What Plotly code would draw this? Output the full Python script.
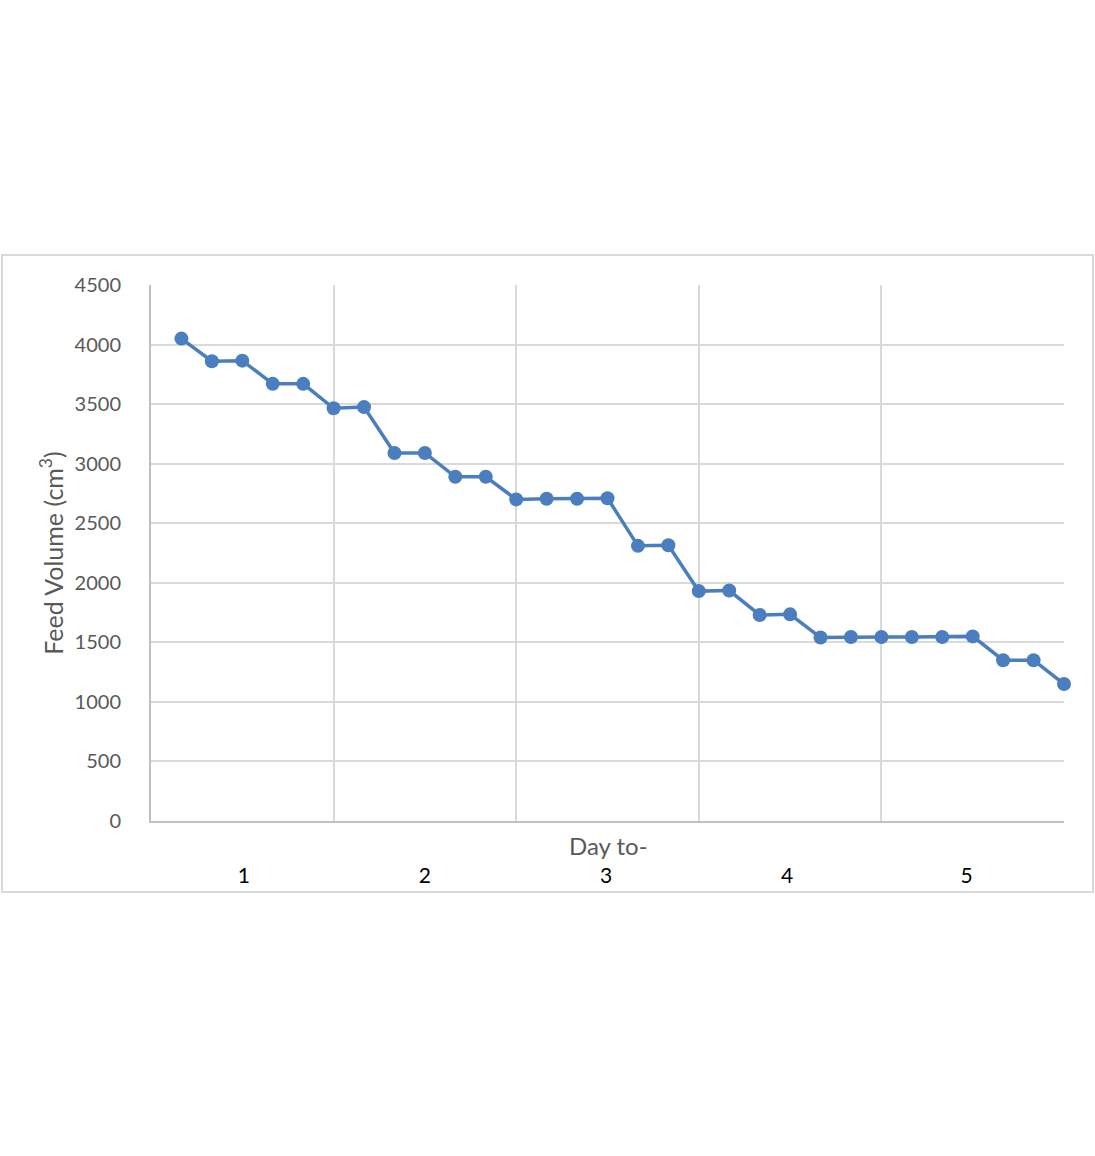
import plotly.graph_objects as go

# Data
sample_index = list(range(1, 31))
feed_volume = [4050, 3860, 3865, 3670, 3670, 3465, 3475, 3090, 3090, 2890,
               2890, 2700, 2705, 2705, 2710, 2310, 2315, 1930, 1935, 1730,
               1735, 1540, 1545, 1545, 1545, 1545, 1550, 1350, 1350, 1150]
day_labels = ["1", "2", "3", "4", "5"]
day_label_pos = [3.05, 9.0, 14.95, 20.9, 26.8]
y_ticks = [0, 500, 1000, 1500, 2000, 2500, 3000, 3500, 4000, 4500]

W, H = 1095, 1156
L, R, T, B = 151, 1064, 285, 821
FONT = "Lato"

fig = go.Figure()
fig.add_trace(go.Scatter(
    x=sample_index, y=feed_volume, mode="lines+markers",
    line=dict(color="#4a7ebf", width=3.5),
    marker=dict(color="#4a7ebf", size=14),
    showlegend=False, cliponaxis=False,
))

fig.update_layout(
    width=W, height=H,
    margin=dict(l=L, r=W - R, t=T, b=H - B),
    paper_bgcolor="white", plot_bgcolor="white",
    font=dict(family=FONT, color="#595959", size=20),
)
fig.update_xaxes(
    range=[0, 30], tickmode="array", tickvals=day_label_pos, ticktext=day_labels,
    showgrid=False, zeroline=False, ticks="",
    tickfont=dict(color="#000000", size=21, family=FONT),
    ticklabelstandoff=35,
    showline=True, linecolor="#c0c0c0", linewidth=2,
    minor=dict(tickmode="linear", tick0=0, dtick=6, showgrid=True,
               gridcolor="#d9d9d9", gridwidth=2, ticks=""),
)
fig.update_yaxes(
    range=[0, 4500], tickmode="array", tickvals=y_ticks,
    showgrid=True, gridcolor="#d9d9d9", gridwidth=2, zeroline=False,
    showline=True, linecolor="#c0c0c0", linewidth=2,
    ticks="", ticklabelstandoff=24,
    tickfont=dict(color="#595959", size=20, family=FONT),
    title=dict(text="Feed Volume (cm<sup>3</sup>)",
               font=dict(color="#595959", size=25, family=FONT), standoff=4),
)

pw, ph = R - L, B - T
# X axis title "Day to-"
fig.add_annotation(text="Day to-", xref="paper", yref="paper",
                   x=(608 - L) / pw, y=(B - 845) / ph,
                   showarrow=False, xanchor="center", yanchor="middle",
                   font=dict(color="#595959", size=24, family=FONT))

# Outer chart border
fig.add_shape(type="rect", xref="paper", yref="paper",
              x0=(2 - L) / pw, x1=(1093 - L) / pw,
              y0=(B - 892) / ph, y1=(B - 255) / ph,
              line=dict(color="#d9d9d9", width=2), layer="below")

fig.write_html(
    "out.html",
    config={"displayModeBar": False},
    post_script="document.body.style.margin='0';document.body.style.overflow='hidden';",
)
